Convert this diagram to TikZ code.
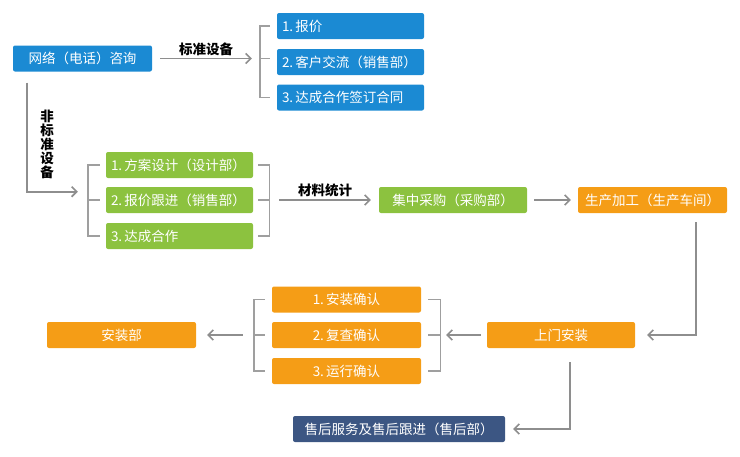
\documentclass[tikz,border=0pt]{standalone}
\usepackage{fontspec}
\setmainfont{Noto Sans CJK SC}
\usetikzlibrary{arrows.meta,calc}
\definecolor{netblue}{HTML}{1B8AD3}
\definecolor{leafgreen}{HTML}{8CC23F}
\definecolor{workorange}{HTML}{F59D16}
\definecolor{slateblue}{HTML}{3C5683}
\definecolor{linegray}{HTML}{8E8E8E}
\begin{document}
\begin{tikzpicture}[x=1pt,y=-1pt,
  box/.style={rounded corners=2pt,text=white,minimum height=26pt,inner xsep=5pt,inner ysep=0pt,font=\fontsize{13.5}{15}\selectfont},
  leftbox/.style={box,text width=137pt,align=left},
  midbox/.style={box,minimum width=148pt},
  tag/.style={font=\fontsize{13.5}{14}\selectfont\bfseries,inner sep=2pt},
  arr/.style={draw=linegray,line width=1.6pt,-{Straight Barb[length=5pt,width=10pt]}},
  brace/.style={draw=linegray!85,line width=1.4pt}]
\useasboundingbox (0,0) rectangle (740,456);
%first row
\node[box,fill=netblue,minimum width=139pt] (net) at (82.5,58.5) {网络（电话）咨询};
\node[leftbox,fill=netblue] (b1) at (350.5,26) {\mbox{1.\,报价}};
\node[leftbox,fill=netblue] (b2) at (350.5,62) {\mbox{2.\,客户交流（销售部）}};
\node[leftbox,fill=netblue] (b3) at (350.5,97.5) {\mbox{3.\,达成合作签订合同}};
\coordinate (bjoin) at ($(b2.west |- net.east)+(-17,0)$);
\draw[arr] ($(net.east)+(8,0)$) -- node[tag,above]{标准设备} ($(bjoin)+(-8,0)$);
\draw[brace] ($(b1.west)+(-7,0)$) -| (bjoin) |- ($(b3.west)+(-7,0)$) (bjoin) -- ++(10,0);
%
\coordinate (turn) at ($(net.south west)+(14,120)$);
\draw[arr] ($(net.south west)+(14,11)$) -- (turn) -- ++(51,0);
\node[tag,align=center] (nonstd) at (47,144) {非\\标\\准\\设\\备};
%second row
\node[leftbox,fill=leafgreen] (g1) at (179.5,165) {\mbox{1.\,方案设计（设计部）}};
\node[leftbox,fill=leafgreen] (g2) at (179.5,200) {\mbox{2.\,报价跟进（销售部）}};
\node[leftbox,fill=leafgreen] (g3) at (179.5,236) {\mbox{3.\,达成合作}};
\coordinate (gl) at ($(g2.west)+(-18,0)$);
\coordinate (gr) at ($(g2.east)+(16,0)$);
\draw[brace] ($(g1.west)+(-6,0)$) -| (gl) |- ($(g3.west)+(-6,0)$) (gl) -- ($(g2.west)+(-6,0)$);
\draw[brace] ($(g1.east)+(5,0)$) -| (gr) |- ($(g3.east)+(5,0)$) (gr) -- ($(g2.east)+(5,0)$);
\node[midbox,fill=leafgreen] (buy) at (453,200) {集中采购（采购部）};
\node[midbox,fill=workorange,minimum width=149pt] (make) at (652.5,200) {生产加工（生产车间）};
\draw[arr] ($(gr)+(10,0)$) -- node[tag,above]{材料统计} ($(buy.west)+(-8,0)$);
\draw[arr] ($(buy.east)+(7,0)$) -- ($(make.west)+(-7,0)$);
%third row
\node[midbox,fill=workorange] (site) at (561,335) {上门安装};
\node[midbox,fill=workorange,minimum width=149pt] (o1) at (346.5,299.5) {1.\,安装确认};
\node[midbox,fill=workorange,minimum width=149pt] (o2) at (346.5,335) {2.\,复查确认};
\node[midbox,fill=workorange,minimum width=149pt] (o3) at (346.5,371) {3.\,运行确认};
\node[midbox,fill=workorange,minimum width=149pt] (inst) at (121.5,335) {安装部};
\draw[arr] ($(make.south east)+(-31,9)$) |- ($(site.east)+(12,0)$);
\coordinate (orr) at ($(o2.east)+(19,0)$);
\coordinate (oll) at ($(o2.west)+(-18,0)$);
\draw[brace] ($(o1.east)+(7,0)$) -| (orr) |- ($(o3.east)+(7,0)$) (orr) -- ($(o2.east)+(7,0)$);
\draw[brace] ($(o1.west)+(-7,0)$) -| (oll) |- ($(o3.west)+(-7,0)$) (oll) -- ($(o2.west)+(-7,0)$);
\draw[arr] ($(site.west)+(-6,0)$) -- ($(orr)+(6,0)$);
\draw[arr] ($(oll)+(-11,0)$) -- ($(inst.east)+(11,0)$);
%after sales
\node[box,fill=slateblue,minimum width=212pt] (after) at (399,429) {售后服务及售后跟进（售后部）};
\draw[arr] ($(site.south)+(9,14)$) |- ($(after.east)+(8,0)$);
\end{tikzpicture}
\end{document}
